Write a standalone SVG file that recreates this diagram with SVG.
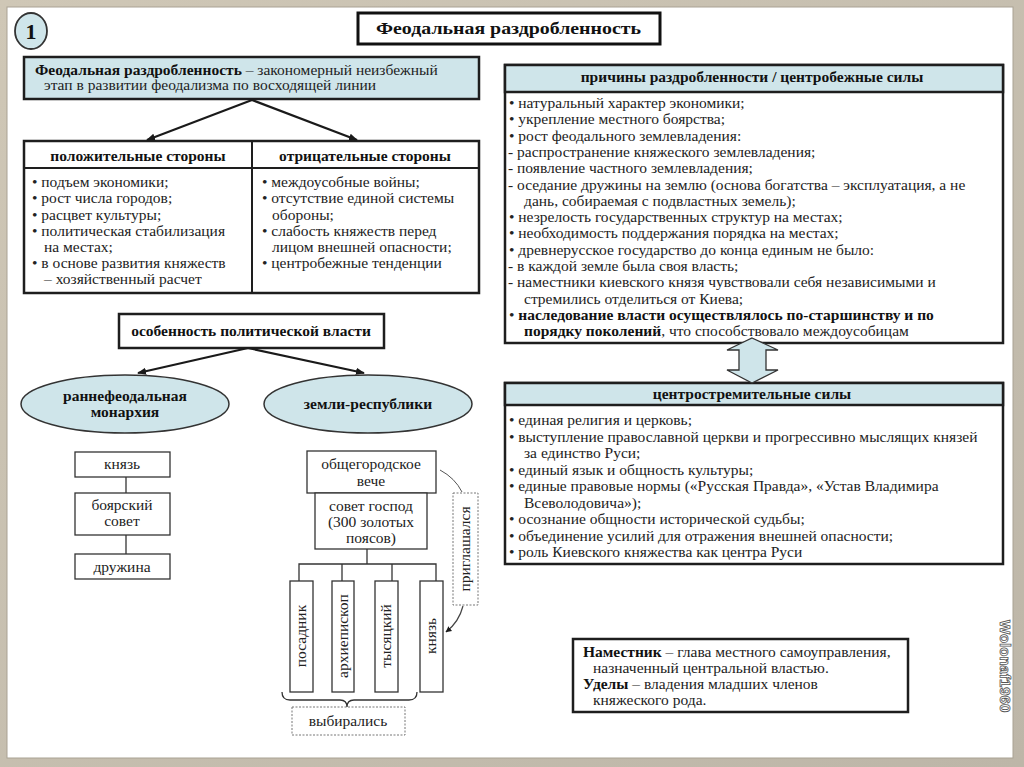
<svg xmlns="http://www.w3.org/2000/svg" width="1024" height="767" viewBox="0 0 1024 767">
<defs>
<style>
.t{font-family:'Liberation Serif','Times New Roman',serif;font-size:15.5px;fill:#222}
.h{font-family:'Liberation Serif','Times New Roman',serif;font-size:15.5px;font-weight:bold;fill:#111}
.b{font-weight:bold;fill:#111}
.c{text-anchor:middle}
.box{fill:#fff;stroke:#1e1e1e;stroke-width:2.5}
.blue{fill:#cfe5ea;stroke:#1e1e1e;stroke-width:2.5}
.thin{fill:#fff;stroke:#333;stroke-width:1.3}
.dot{fill:#fff;stroke:#777;stroke-width:1;stroke-dasharray:2 1.5}
.ln{stroke:#1a1a1a;stroke-width:2.2;fill:none}
.tl{stroke:#333;stroke-width:1.3;fill:none}
</style>
<marker id="ah" viewBox="0 0 10 10" refX="9" refY="5" markerWidth="6" markerHeight="6" orient="auto" markerUnits="userSpaceOnUse">
<path d="M0,0 L10,5 L0,10 Z" fill="#1a1a1a"/>
</marker>
<marker id="ah2" viewBox="0 0 10 10" refX="9" refY="5" markerWidth="9" markerHeight="9" orient="auto" markerUnits="userSpaceOnUse">
<path d="M0,1 L10,5 L0,9 Z" fill="#1a1a1a"/>
</marker>
<linearGradient id="fr" x1="0" y1="0" x2="1" y2="1">
<stop offset="0" stop-color="#cfc7b6"/>
<stop offset="1" stop-color="#bdb6a8"/>
</linearGradient>
</defs>

<rect x="0" y="0" width="1024" height="767" fill="url(#fr)"/>
<rect x="7" y="7" width="1006" height="751" fill="#fff" stroke="#a9a293" stroke-width="1"/>

<g id="badge">
<ellipse cx="31" cy="31" rx="16" ry="18" fill="#cfe5ea" stroke="#333" stroke-width="1.8"/>
<text class="h c" x="31" y="39" style="font-size:22px">1</text>
</g>

<g id="title">
<rect x="358" y="13" width="302" height="31" fill="#fff" stroke="#111" stroke-width="3"/>
<text class="h" x="376" y="34" style="font-size:17px" textLength="265" lengthAdjust="spacingAndGlyphs">Феодальная раздробленность</text>
</g>

<g id="definition">
<rect class="blue" x="24" y="57" width="455" height="42"/>
<text class="t" x="35" y="75"><tspan class="b">Феодальная раздробленность</tspan> – закономерный неизбежный</text>
<text class="t" x="44" y="90">этап в развитии феодализма по восходящей линии</text>
</g>

<g id="pros-cons">
<rect class="box" x="24" y="141" width="455" height="152"/>
<line x1="24" y1="168" x2="479" y2="168" stroke="#1e1e1e" stroke-width="2"/>
<line x1="252" y1="141" x2="252" y2="293" stroke="#1e1e1e" stroke-width="2"/>
<text class="h c" x="138" y="161">положительные стороны</text>
<text class="h c" x="365" y="161">отрицательные стороны</text>
<text class="t" x="32" y="187">• подъем экономики;</text>
<text class="t" x="32" y="203">• рост числа городов;</text>
<text class="t" x="32" y="219.5">• расцвет культуры;</text>
<text class="t" x="32" y="235.5">• политическая стабилизация</text>
<text class="t" x="44" y="251.5">на местах;</text>
<text class="t" x="32" y="268">• в основе развития княжеств</text>
<text class="t" x="44" y="284">– хозяйственный расчет</text>
<text class="t" x="262" y="187">• междоусобные войны;</text>
<text class="t" x="262" y="203">• отсутствие единой системы</text>
<text class="t" x="272" y="219.5">обороны;</text>
<text class="t" x="262" y="235.5">• слабость княжеств перед</text>
<text class="t" x="272" y="251.5">лицом внешней опасности;</text>
<text class="t" x="262" y="268">• центробежные тенденции</text>
</g>

<g id="causes">
<rect class="box" x="505" y="65" width="498" height="278"/>
<rect class="blue" x="505" y="65" width="498" height="27"/>
<text class="h c" x="752" y="82">причины раздробленности / центробежные силы</text>
<text class="t" x="509" y="108">• натуральный характер экономики;</text>
<text class="t" x="509" y="124.3">• укрепление местного боярства;</text>
<text class="t" x="509" y="140.6">• рост феодального землевладения:</text>
<text class="t" x="508" y="156.9">- распространение княжеского землевладения;</text>
<text class="t" x="508" y="173.2">- появление частного землевладения;</text>
<text class="t" x="508" y="189.5">- оседание дружины на землю (основа богатства – эксплуатация, а не</text>
<text class="t" x="524" y="205.8">дань, собираемая с подвластных земель);</text>
<text class="t" x="509" y="222.1">• незрелость государственных структур на местах;</text>
<text class="t" x="509" y="238.4">• необходимость поддержания порядка на местах;</text>
<text class="t" x="509" y="254.7">• древнерусское государство до конца единым не было:</text>
<text class="t" x="508" y="271">- в каждой земле была своя власть;</text>
<text class="t" x="508" y="287.3">- наместники киевского князя чувствовали себя независимыми и</text>
<text class="t" x="524" y="303.6">стремились отделиться от Киева;</text>
<text class="t" x="509" y="319.9">• <tspan class="b">наследование власти осуществлялось по-старшинству и по</tspan></text>
<text class="t" x="524" y="336.2"><tspan class="b">порядку поколений</tspan>, что способствовало междоусобицам</text>
</g>

<g id="centripetal">
<rect class="box" x="505" y="383" width="498" height="181"/>
<rect class="blue" x="505" y="383" width="498" height="22"/>
<text class="h c" x="752" y="399">центростремительные силы</text>
<text class="t" x="509" y="425">• единая религия и церковь;</text>
<text class="t" x="509" y="441.5">• выступление православной церкви и прогрессивно мыслящих князей</text>
<text class="t" x="524" y="458">за единство Руси;</text>
<text class="t" x="509" y="474.5">• единый язык и общность культуры;</text>
<text class="t" x="509" y="491">• единые правовые нормы («Русская Правда», «Устав Владимира</text>
<text class="t" x="524" y="507.5">Всеволодовича»);</text>
<text class="t" x="509" y="524">• осознание общности исторической судьбы;</text>
<text class="t" x="509" y="540.5">• объединение усилий для отражения внешней опасности;</text>
<text class="t" x="509" y="557">• роль Киевского княжества как центра Руси</text>
</g>

<g id="political">
<rect x="119" y="314" width="265" height="34" fill="#fff" stroke="#1e1e1e" stroke-width="2.5"/>
<text class="h c" x="251" y="336">особенность политической власти</text>
</g>
<g id="monarchy">
<ellipse cx="125" cy="404" rx="104" ry="29" fill="#cfe5ea" stroke="#333" stroke-width="1.5"/>
<text class="h c" x="125" y="401">раннефеодальная</text>
<text class="h c" x="125" y="417">монархия</text>
</g>
<g id="republics">
<ellipse cx="368" cy="404" rx="104" ry="29" fill="#cfe5ea" stroke="#333" stroke-width="1.5"/>
<text class="h c" x="368" y="409">земли-республики</text>
</g>

<g id="m-knyaz"><rect class="thin" x="75" y="452" width="95" height="25"/><text class="t c" x="122" y="469">князь</text></g>
<g id="m-boyar"><rect class="thin" x="75" y="493" width="95" height="42"/><text class="t c" x="122" y="510">боярский</text><text class="t c" x="122" y="526">совет</text></g>
<g id="m-druzh"><rect class="thin" x="75" y="554" width="95" height="25"/><text class="t c" x="122" y="572">дружина</text></g>

<g id="veche"><rect class="thin" x="307" y="451" width="129" height="42"/><text class="t c" x="371" y="469">общегородское</text><text class="t c" x="371" y="486">вече</text></g>
<g id="sovet"><rect class="thin" x="315" y="493" width="112" height="56"/><text class="t c" x="371" y="511">совет господ</text><text class="t c" x="371" y="527">(300 золотых</text><text class="t c" x="371" y="543">поясов)</text></g>
<g id="posadnik"><rect class="thin" x="290" y="581" width="23" height="111"/><text class="t c" transform="translate(306,636) rotate(-90)" x="0" y="0">посадник</text></g>
<g id="arkh"><rect class="thin" x="332" y="581" width="22" height="111"/><text class="t c" transform="translate(348,636) rotate(-90)" x="0" y="0">архиепископ</text></g>
<g id="tys"><rect class="thin" x="375" y="581" width="23" height="111"/><text class="t c" transform="translate(391,636) rotate(-90)" x="0" y="0">тысяцкий</text></g>
<g id="r-knyaz"><rect class="thin" x="420" y="581" width="23" height="111"/><text class="t c" transform="translate(436,636) rotate(-90)" x="0" y="0">князь</text></g>
<g id="priglash"><rect class="dot" x="453" y="493" width="25" height="112"/><text class="t c" transform="translate(470,549) rotate(-90)" x="0" y="0">приглашался</text></g>
<g id="vybir"><rect class="dot" x="292" y="707" width="113" height="28"/><text class="t c" x="348" y="726">выбирались</text></g>

<g id="terms">
<rect x="573" y="639" width="335" height="73" fill="#fff" stroke="#1e1e1e" stroke-width="2.5"/>
<text class="t" x="583" y="657"><tspan class="b">Наместник</tspan> – глава местного самоуправления,</text>
<text class="t" x="593" y="673">назначенный центральной властью.</text>
<text class="t" x="583" y="689"><tspan class="b">Уделы</tspan> – владения младших членов</text>
<text class="t" x="593" y="705">княжеского рода.</text>
</g>

<g id="connectors">
<line class="ln" x1="252" y1="100" x2="147" y2="140" marker-end="url(#ah2)"/>
<line class="ln" x1="252" y1="100" x2="357" y2="140" marker-end="url(#ah2)"/>
<line class="ln" x1="248" y1="348" x2="138" y2="373" marker-end="url(#ah2)"/>
<line class="ln" x1="248" y1="348" x2="364" y2="373" marker-end="url(#ah2)"/>
<polygon points="752,338 778,350 766,350 766,370 778,370 752,383 727,370 739,370 739,350 727,350" fill="#cfe5ea" stroke="#333" stroke-width="1.3"/>
<line class="tl" x1="126" y1="477" x2="126" y2="493"/>
<line class="tl" x1="126" y1="535" x2="126" y2="554"/>
<line class="tl" x1="367" y1="549" x2="367" y2="564"/>
<polyline class="tl" points="299,581 299,564 436,564 436,581"/>
<line class="tl" x1="342" y1="564" x2="342" y2="581"/>
<line class="tl" x1="392" y1="564" x2="392" y2="581"/>
<path class="tl" d="M282,692 Q282,700 290,700 L340,700 Q347,700 347,707 Q347,700 354,700 L409,700 Q417,700 417,692"/>
<path d="M440,470 Q455,478 462,492" fill="none" stroke="#555" stroke-width="1"/>
<path d="M463,606 Q459,622 446,632" fill="none" stroke="#444" stroke-width="1.2" marker-end="url(#ah)"/>
</g>

<text transform="translate(1000,620) rotate(90)" x="0" y="0" style="font-family:'Liberation Sans',Arial,sans-serif;font-size:15px;font-weight:bold;fill:#fff;stroke:#555;stroke-width:0.8">Wolonaf1960</text>
</svg>
